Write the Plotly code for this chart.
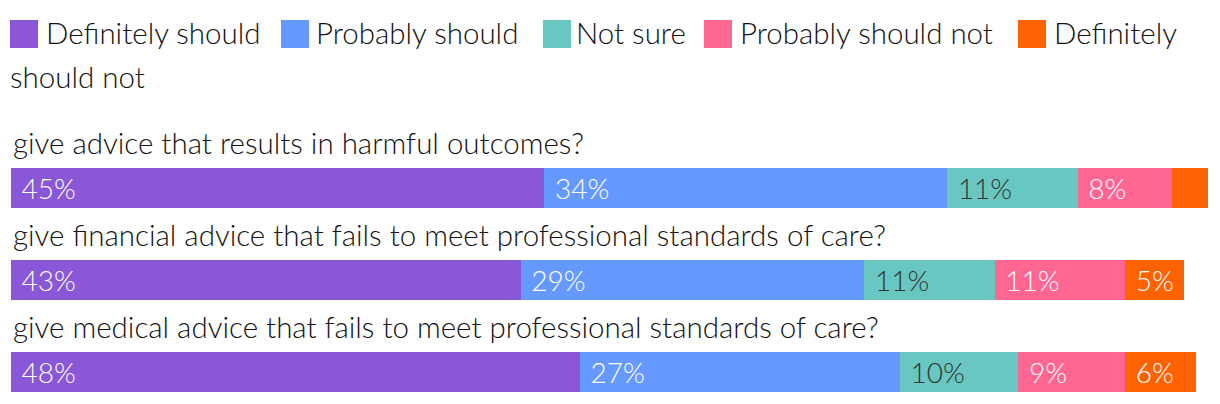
import plotly.graph_objects as go

questions = [
    "give advice that results in harmful outcomes?",
    "give financial advice that fails to meet professional standards of care?",
    "give medical advice that fails to meet professional standards of care?",
]
series_names = ["Definitely should", "Probably should", "Not sure", "Probably should not", "Definitely should not"]
definitely_should = [45, 43, 48]
probably_should = [34, 29, 27]
not_sure = [11, 11, 10]
probably_should_not = [8, 11, 9]
definitely_should_not = [3, 5, 6]

series_values = [definitely_should, probably_should, not_sure, probably_should_not, definitely_should_not]
colors = ["#8957D7", "#6699FF", "#68C7C0", "#FF6692", "#FF6200"]
text_colors = ["#FFFFFF", "#FFFFFF", "#333333", "#FFFFFF", "#FFFFFF"]

# page has an 8px body margin; figure is placed at (8, 8)
OFF = 8
W, H = 1220 - OFF, 404 - OFF
ML, MR, MT, MB = 11 - OFF, 12, 96 - OFF, 0
PW, PH = W - ML - MR, H - MT - MB
FONT = "Lato"
FS = 29.5
BFS = 28
FW = 300

def px_x(px):
    return (px - OFF - ML) / PW

def px_y(py):
    return (H - MB - (py - OFF)) / PH

rows = list(range(len(questions)))

fig = go.Figure()
for name, vals, col, tcol in zip(series_names, series_values, colors, text_colors):
    fig.add_trace(go.Bar(
        name=name,
        x=vals,
        y=rows,
        orientation="h",
        width=0.435,
        marker=dict(color=col, line=dict(width=0)),
        texttemplate="\u00a0%{x}%",
        textposition="inside",
        insidetextanchor="start",
        textfont=dict(family=FONT, size=BFS, color=tcol, weight=FW),
        hoverinfo="skip",
        showlegend=False,
    ))

annotations = []
for i, q in enumerate(questions):
    annotations.append(dict(
        x=px_x(11), xref="paper", y=i - 0.5, yref="y",
        text=q, showarrow=False, xanchor="left", yanchor="middle",
        font=dict(family=FONT, size=FS, color="#111111", weight=FW),
    ))

# Manual legend (wraps like the reference)
legend_items = [
    (10, 20, 44, 33, "Definitely should"),
    (281, 20, 314, 33, "Probably should"),
    (543, 20, 574, 33, "Not sure"),
    (704, 20, 738, 33, "Probably should not"),
    (1018, 20, 1052, 33, "Definitely"),
]
shapes = []
for (sx, sy, tx, ty, label), col in zip(legend_items, colors):
    shapes.append(dict(
        type="rect", xref="paper", yref="paper",
        x0=px_x(sx), x1=px_x(sx + 28), y0=px_y(sy + 28), y1=px_y(sy),
        fillcolor=col, line=dict(width=0),
    ))
    annotations.append(dict(
        x=px_x(tx), xref="paper", y=px_y(ty), yref="paper",
        text=label, showarrow=False, xanchor="left", yanchor="middle",
        font=dict(family=FONT, size=FS, color="#111111", weight=FW),
    ))
annotations.append(dict(
    x=px_x(8), xref="paper", y=px_y(76), yref="paper",
    text="should not", showarrow=False, xanchor="left", yanchor="middle",
    font=dict(family=FONT, size=FS, color="#111111", weight=FW),
))

fig.update_layout(
    width=W, height=H,
    barmode="stack",
    margin=dict(l=ML, r=MR, t=MT, b=MB, pad=0),
    paper_bgcolor="white", plot_bgcolor="white",
    xaxis=dict(range=[0, 101], visible=False, fixedrange=True),
    yaxis=dict(range=[2 + (404 - 372) / 92, -1], visible=False, fixedrange=True),
    uniformtext=dict(mode="hide", minsize=BFS),
    annotations=annotations,
    shapes=shapes,
    showlegend=False,
    hovermode=False,
    font=dict(family=FONT),
)

fig.write_html("out.html", config={"displayModeBar": False})
